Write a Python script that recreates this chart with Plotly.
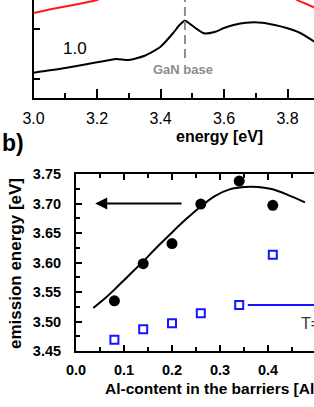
import plotly.graph_objects as go

W, H = 314, 407
FONT = "Liberation Sans"

# ---------------- panel a (top, partially visible) ----------------
spec_energy = [3.00, 3.10, 3.20, 3.26, 3.30, 3.35, 3.40, 3.44, 3.46, 3.477, 3.51,
               3.537, 3.57, 3.60, 3.63, 3.67, 3.72, 3.76, 3.80, 3.84, 3.885]
spec_black = [25.3, 30.0, 35.7, 39.0, 38.0, 42.3, 51.3, 65.0, 73.0, 77.3, 70.0,
              64.7, 66.0, 70.0, 73.0, 75.3, 75.3, 73.0, 69.7, 65.0, 56.3]
red_energy = [3.00, 3.05, 3.10, 3.15, 3.20, 3.215, None, 3.825, 3.83, 3.86, 3.885]
red_vals = [85.0, 88.5, 91.5, 94.5, 98.0, 100.0, None, 100.0, 98.0, 94.0, 90.5]
gan_energy = 3.477
gan_line_y = [40.0, 100.0]
top_yticks = [19, 69]

# ---------------- panel b (bottom) ----------------
al_content = [0.08, 0.14, 0.20, 0.26, 0.34, 0.41]
emission_black = [3.535, 3.598, 3.632, 3.699, 3.738, 3.697]
emission_blue = [3.469, 3.487, 3.497, 3.514, 3.528, 3.613]
fit_x = [0.036, 0.06, 0.08, 0.10, 0.12, 0.14, 0.17, 0.20, 0.23, 0.26, 0.29,
         0.32, 0.35, 0.38, 0.41, 0.44, 0.477]
fit_y = [3.523, 3.539, 3.554, 3.570, 3.586, 3.602, 3.627, 3.651, 3.674, 3.695,
         3.713, 3.724, 3.728, 3.728, 3.724, 3.715, 3.702]
blue_line_x = [0.358, 0.52]
blue_line_y = [3.528, 3.528]
arrow_from = (0.223, 3.70)
arrow_to = (0.04, 3.70)


def px(x):
    return x / W


def py(y):
    return 1 - y / H


fig = go.Figure()

fig.add_trace(go.Scatter(x=spec_energy, y=spec_black, mode="lines",
                         line=dict(color="black", width=2, shape="spline", smoothing=0.6),
                         xaxis="x", yaxis="y", showlegend=False))
fig.add_trace(go.Scatter(x=red_energy, y=red_vals, mode="lines",
                         line=dict(color="#ff1a1a", width=2, shape="spline", smoothing=0.5),
                         xaxis="x", yaxis="y", showlegend=False, connectgaps=False))
fig.add_trace(go.Scatter(x=[gan_energy, gan_energy], y=gan_line_y, mode="lines",
                         line=dict(color="#8c8c8c", width=2, dash="9px,5px"),
                         xaxis="x", yaxis="y", showlegend=False))

fig.add_trace(go.Scatter(x=fit_x, y=fit_y, mode="lines",
                         line=dict(color="black", width=2, shape="spline", smoothing=0.8),
                         xaxis="x2", yaxis="y2", showlegend=False))
fig.add_trace(go.Scatter(x=al_content, y=emission_black, mode="markers",
                         marker=dict(color="black", size=11, symbol="circle"),
                         xaxis="x2", yaxis="y2", showlegend=False))
fig.add_trace(go.Scatter(x=al_content, y=emission_blue, mode="markers",
                         marker=dict(color="white", size=8, symbol="square",
                                     line=dict(color="#1414ff", width=2)),
                         xaxis="x2", yaxis="y2", showlegend=False))
fig.add_trace(go.Scatter(x=blue_line_x, y=blue_line_y, mode="lines",
                         line=dict(color="#1414ff", width=2),
                         xaxis="x2", yaxis="y2", showlegend=False))

axis_common = dict(showline=True, linecolor="black", linewidth=2, ticks="inside",
                   tickcolor="black", tickwidth=2, showgrid=False, zeroline=False,
                   automargin=False)

x1_left = 33.5
fig.update_layout(
    width=W, height=H,
    margin=dict(l=0, r=0, t=0, b=0, autoexpand=False),
    paper_bgcolor="white", plot_bgcolor="white",
    font=dict(family=FONT, color="black"),
    xaxis=dict(domain=[px(x1_left), 1], range=[3.0, 3.0 + (W - x1_left) / 317.5],
               anchor="y", tick0=3.0, dtick=0.2, tickformat=".1f", ticklen=9,
               minor=dict(dtick=0.1, ticks="inside", ticklen=5, tickwidth=2, tickcolor="black"),
               tickfont=dict(size=16, family=FONT), ticklabelstandoff=5, **axis_common),
    yaxis=dict(domain=[py(98), 1], range=[0, 98], anchor="x", tickvals=top_yticks,
               ticklen=6, showticklabels=False, **axis_common),
    xaxis2=dict(domain=[px(76), 1], range=[0, (W - 76) / 480], anchor="y2",
                tick0=0, dtick=0.1, tickformat=".1f", ticklen=6, mirror="ticks",
                minor=dict(dtick=0.05, ticks="inside", ticklen=4, tickwidth=2, tickcolor="black"),
                tickfont=dict(size=14.5, family=FONT, weight="bold"), ticklabelstandoff=5,
                **axis_common),
    yaxis2=dict(domain=[py(351), py(174)], range=[3.45, 3.75], anchor="x2",
                tick0=3.45, dtick=0.05, tickformat=".2f", ticklen=6,
                minor=dict(dtick=0.025, ticks="inside", ticklen=4, tickwidth=2, tickcolor="black"),
                tickfont=dict(size=14.5, family=FONT, weight="bold"), ticklabelstandoff=10,
                **axis_common),
)


def label(text, x, y, size, bold=False, color="black", xanchor="center", angle=0):
    f = dict(size=size, family=FONT, color=color)
    if bold:
        f["weight"] = "bold"
    return dict(text=text, x=px(x), y=py(y), xref="paper", yref="paper",
                xanchor=xanchor, yanchor="middle", textangle=angle,
                showarrow=False, font=f)


ann = [
    label("1.0", 75, 49, 17),
    label("GaN base", 183, 69, 13, bold=True, color="#8c8c8c"),
    label("energy [eV]", 219, 137, 16, bold=True),
    label("b)", 0, 143, 23, bold=True, xanchor="left"),
    label("emission energy [eV]", 15, 264, 17, bold=True, angle=-90),
    label("Al-content in the barriers [Al]", 103, 388, 15.5, bold=True, xanchor="left"),
    label("T=", 299, 323, 16, color="#333333", xanchor="left"),
]
ann.append(dict(text="", x=arrow_to[0], y=arrow_to[1], ax=arrow_from[0], ay=arrow_from[1],
                xref="x2", yref="y2", axref="x2", ayref="y2", showarrow=True,
                arrowhead=2, arrowsize=1.2, arrowwidth=2, arrowcolor="black"))
fig.update_layout(annotations=ann)

fig.write_html("out.html", config={"displayModeBar": False},
               post_script="document.body.style.margin='0';document.body.style.overflow='hidden';")
